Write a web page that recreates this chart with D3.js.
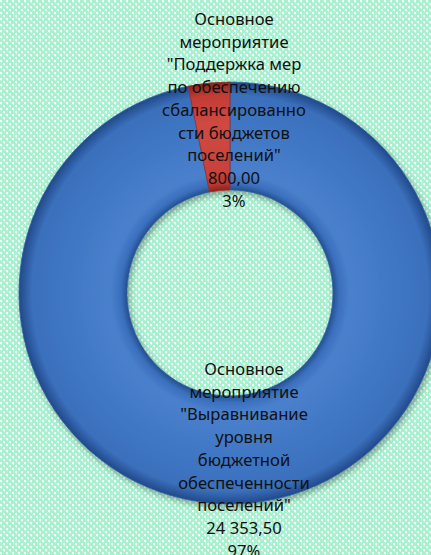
<!DOCTYPE html>
<html>
<head>
<meta charset="utf-8">
<script src="https://cdn.jsdelivr.net/npm/d3@7"></script>
<style>
  body { margin: 0; background: #fff; }
  svg { display: block; }
</style>
</head>
<body>
<svg width="431" height="555"></svg>
<script>
// data
var categories = [
  "Основное мероприятие \"Выравнивание уровня бюджетной обеспеченности поселений\"",
  "Основное мероприятие \"Поддержка мер по обеспечению сбалансированности бюджетов поселений\""
];
var values = [24353.50, 800.00];
var valueLabels = ["24 353,50", "800,00"];
var percentLabels = ["97%", "3%"];
// label text as wrapped in the original
var labelLines = [
  ["Основное", "мероприятие", "\"Выравнивание", "уровня", "бюджетной", "обеспеченности", "поселений\""],
  ["Основное", "мероприятие", "\"Поддержка мер", "по обеспечению", "сбалансированно", "сти бюджетов", "поселений\""]
];

var svg = d3.select("svg"),
  width = +svg.attr("width"),
  height = +svg.attr("height");

var cx = 230, cy = 293, outerR = 211, innerR = 103;
var lineH = 22.7;
var labelPos = [[244, 375], [234, 25]]; // x centre, first baseline

var defs = svg.append("defs");

// background pattern
var pat = defs.append("pattern")
  .attr("id", "bg")
  .attr("patternUnits", "userSpaceOnUse")
  .attr("width", 6).attr("height", 6);
pat.append("rect").attr("width", 6).attr("height", 6).attr("fill", "#a8f0d0");
pat.append("rect").attr("x", 0).attr("y", 0).attr("width", 2).attr("height", 2).attr("fill", "#f4fffa");
pat.append("rect").attr("x", 3).attr("y", 3).attr("width", 2).attr("height", 2).attr("fill", "#f4fffa");
pat.append("rect").attr("x", 1).attr("y", 2).attr("width", 1).attr("height", 1).attr("fill", "#d2f8e6");
pat.append("rect").attr("x", 4).attr("y", 5).attr("width", 1).attr("height", 1).attr("fill", "#d2f8e6");

svg.append("rect")
  .attr("width", width).attr("height", height)
  .attr("fill", "url(#bg)");

// bevel-like gradients (in the donut group's own coordinates)
var k = innerR / outerR;
var grads = [
  { id: "gBlue", stops: [[k, "#24508f"], [k + 0.03, "#3a6fbd"], [k + 0.08, "#4a80cc"], [0.8, "#3f76c4"], [0.94, "#3a6fbb"], [1, "#22498a"]] },
  { id: "gRed", stops: [[k, "#8c2420"], [k + 0.03, "#b8362f"], [k + 0.08, "#c9413a"], [0.8, "#cf4a42"], [0.94, "#c23c35"], [1, "#8a2420"]] }
];
grads.forEach(function(g) {
  var rg = defs.append("radialGradient")
    .attr("id", g.id)
    .attr("gradientUnits", "userSpaceOnUse")
    .attr("cx", 0).attr("cy", 0).attr("r", outerR);
  g.stops.forEach(function(s) {
    rg.append("stop").attr("offset", s[0]).attr("stop-color", s[1]);
  });
});

var shadow = defs.append("filter").attr("id", "shadow")
  .attr("x", "-20%").attr("y", "-20%").attr("width", "140%").attr("height", "140%");
shadow.append("feDropShadow")
  .attr("dx", 2).attr("dy", 3).attr("stdDeviation", 3)
  .attr("flood-color", "#000").attr("flood-opacity", 0.35);

var pie = d3.pie().sort(null).value(function(d) { return d; });
var arc = d3.arc().innerRadius(innerR).outerRadius(outerR);

var g = svg.append("g")
  .attr("transform", "translate(" + cx + "," + cy + ")");

g.append("g")
  .attr("filter", "url(#shadow)")
  .selectAll("path")
  .data(pie(values))
  .enter().append("path")
  .attr("d", arc)
  .attr("fill", function(d, i) { return i === 0 ? "url(#gBlue)" : "url(#gRed)"; })
  .attr("stroke", function(d, i) { return i === 0 ? "#2e5fa6" : "#9a2c26"; })
  .attr("stroke-width", 0.8);

// fit font to the original text width
var probe = svg.append("text")
  .style("font-family", "'Noto Sans', 'Open Sans', sans-serif")
  .style("font-size", "18px")
  .text("сбалансированно");
var fs = 18 * 144 / probe.node().getComputedTextLength();
probe.remove();

var labels = svg.append("g")
  .style("font-family", "'Noto Sans', 'Open Sans', sans-serif")
  .style("font-size", fs + "px")
  .attr("fill", "#111")
  .attr("text-anchor", "middle");

labelLines.forEach(function(lines, i) {
  var all = lines.concat([valueLabels[i], percentLabels[i]]);
  labels.append("text")
    .selectAll("tspan")
    .data(all)
    .enter().append("tspan")
    .attr("x", labelPos[i][0])
    .attr("y", function(d, j) { return labelPos[i][1] + j * lineH; })
    .text(function(d) { return d; });
});
</script>
</body>
</html>
